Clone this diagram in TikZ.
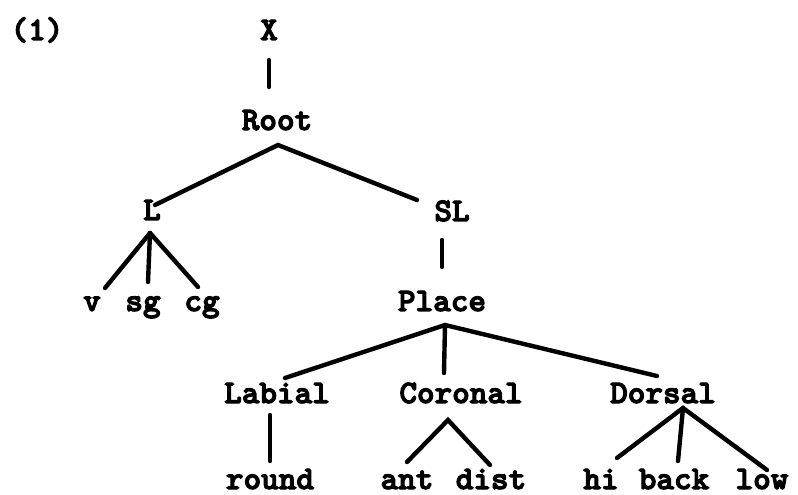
\documentclass[tikz,border=0pt]{standalone}
\usepackage{fontspec}
% heavy typewriter face for all labels
\newfontfamily\tw[FakeStretch=1.02,FakeBold=3.5]{lmmonolt10-bold.otf}
\begin{document}
\begin{tikzpicture}[x=1bp,y=-1bp,
  lbl/.style={font=\tw\fontsize{33}{36}\selectfont, inner sep=0pt, anchor=base, text depth=0pt},
  edge/.style={line width=4.4bp, line cap=round}]
\useasboundingbox (0,0) rectangle (798,495);

% labels
\node[lbl] (num) at (37,40) {(1)};
\node[lbl] (X) at (269,40) {X};
\node[lbl] (Root) at (277,130) {Root};
\node[lbl] (L) at (152,220) {L};
\node[lbl] (SL) at (452,221) {SL};
\node[lbl] (v) at (92,311) {v};
\node[lbl] (sg) at (143,311) {sg};
\node[lbl] (cg) at (202,311) {cg};
\node[lbl] (Place) at (442,311) {Place};
\node[lbl] (Labial) at (277,403) {Labial};
\node[lbl] (Coronal) at (461,403) {Coronal};
\node[lbl] (Dorsal) at (663,403) {Dorsal};
\node[lbl] (round) at (270,489) {round};
\node[lbl] (ant) at (407,489) {ant};
\node[lbl] (dist) at (491,489) {dist};
\node[lbl] (hi) at (601,489) {hi};
\node[lbl] (back) at (674,489) {back};
\node[lbl] (low) at (762,489) {low};

% attachment points of the branches
\coordinate (X-dn) at (269,60);
\coordinate (Root-up) at (269,87);
\coordinate (Root-dn) at (278,145);
\coordinate (L-up) at (155,205);
\coordinate (SL-up) at (417,200);
\coordinate (L-dn) at (150,233);
\coordinate (v-up) at (105,288);
\coordinate (sg-up) at (148,282);
\coordinate (cg-up) at (198,287);
\coordinate (SL-dn) at (442,240);
\coordinate (Place-up) at (442,267);
\coordinate (Place-dn) at (445,325);
\coordinate (Labial-up) at (285,378);
\coordinate (Coronal-up) at (444,373);
\coordinate (Dorsal-up) at (657,376);
\coordinate (Labial-dn) at (270,415);
\coordinate (round-up) at (270,461);
\coordinate (Coronal-dn) at (448,420);
\coordinate (ant-up) at (407,462);
\coordinate (dist-up) at (490,465);
\coordinate (Dorsal-dn) at (683,408);
\coordinate (hi-up) at (617,458);
\coordinate (back-up) at (678,461);
\coordinate (low-up) at (767,470);

% branches
\draw[edge] (X-dn) -- (Root-up);
\draw[edge] (L-up) -- (Root-dn) -- (SL-up);
\draw[edge] (L-dn) -- (v-up);
\draw[edge] (L-dn) -- (sg-up);
\draw[edge] (L-dn) -- (cg-up);
\draw[edge] (SL-dn) -- (Place-up);
\draw[edge] (Labial-up) -- (Place-dn) -- (Dorsal-up);
\draw[edge] (Place-dn) -- (Coronal-up);
\draw[edge] (Labial-dn) -- (round-up);
\draw[edge] (ant-up) -- (Coronal-dn) -- (dist-up);
\draw[edge] (hi-up) -- (Dorsal-dn) -- (low-up);
\draw[edge] (Dorsal-dn) -- (back-up);
\end{tikzpicture}
\end{document}
